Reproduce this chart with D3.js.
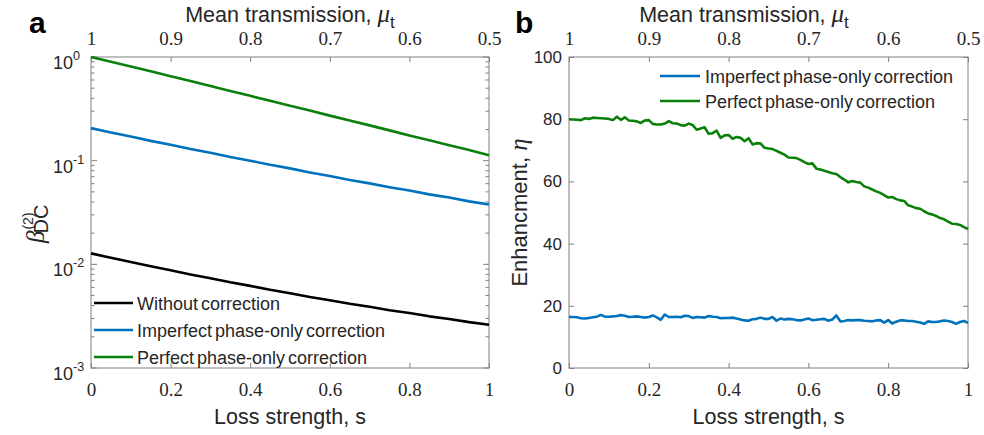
<!DOCTYPE html>
<html><head><meta charset="utf-8">
<script src="https://cdn.jsdelivr.net/npm/d3@7/dist/d3.min.js"></script>
<style>
html,body{margin:0;padding:0;background:#fff;}
svg{display:block;}
</style></head>
<body><svg id="c" width="984" height="435"></svg>
<script>
// ---------------- DATA ----------------
// Panel a: beta_DC^(2) vs loss strength s (step 0.05)
const sA = [0,0.05,0.1,0.15,0.2,0.25,0.3,0.35,0.4,0.45,0.5,0.55,0.6,0.65,0.7,0.75,0.8,0.85,0.9,0.95,1];
const aWithout = [0.01276,0.01155,0.01055,0.00958,0.00878,0.00799,0.00734,0.00671,0.00620,0.00568,0.00527,0.00485,0.00451,0.00417,0.00390,0.00361,0.00339,0.00315,0.00297,0.00277,0.00261];
const aImperfect = [0.2061,0.1870,0.1712,0.1552,0.1426,0.1296,0.1193,0.1085,0.1000,0.0912,0.0843,0.0770,0.0712,0.0652,0.0604,0.0555,0.0515,0.0473,0.0441,0.0405,0.0378];
const aPerfect = [1.0,0.899,0.809,0.727,0.653,0.586,0.525,0.471,0.422,0.378,0.339,0.304,0.272,0.244,0.219,0.196,0.175,0.157,0.141,0.127,0.113];

// Panel b: enhancement eta vs loss strength s (step 0.01)
const sB = d3.range(0,101).map(i => i/100);
const bImperfect = [16.4,16.4,16.3,16.0,15.9,16.1,16.3,16.5,17.1,16.5,16.5,16.6,16.7,17.0,16.8,16.4,16.5,16.6,16.4,16.2,
16.4,16.9,16.3,15.5,17.2,16.4,16.4,16.5,16.3,16.8,16.7,16.1,16.4,16.3,16.2,16.7,16.5,16.4,16.0,16.1,
16.1,16.2,15.9,15.6,15.3,15.2,15.7,15.8,16.2,15.8,15.8,16.4,15.2,15.9,15.6,15.8,15.7,15.4,15.3,15.6,
15.9,15.4,15.5,15.7,15.8,15.2,15.6,16.9,15.0,15.1,15.4,15.3,15.4,15.4,15.2,15.1,15.0,15.3,15.4,14.6,
15.4,14.3,14.9,15.3,15.3,15.1,15.1,14.9,14.6,14.2,15.0,14.8,14.8,15.0,15.3,15.1,14.8,14.2,14.8,15.1,14.5];
const bPerfect = [80.0,79.9,79.8,79.7,80.3,80.1,80.5,80.4,80.3,80.2,80.1,79.7,80.8,79.8,80.6,79.6,79.5,79.3,78.8,79.6,
79.7,78.5,78.3,78.3,78.6,79.4,78.7,78.6,78.1,77.9,78.6,78.1,76.6,77.0,77.4,75.3,75.5,76.3,74.0,74.8,
74.9,73.7,74.3,74.0,72.9,73.9,71.9,72.3,72.2,70.8,70.6,70.4,69.8,69.2,68.6,67.7,67.6,67.5,66.9,66.2,
65.6,65.8,64.1,63.8,63.4,63.0,62.6,62.4,61.4,60.6,59.7,60.1,59.8,59.6,58.4,58.0,57.4,56.8,56.3,55.6,
54.8,55.0,54.3,53.9,53.7,52.3,51.9,51.4,51.2,50.4,49.7,49.4,48.9,48.2,47.8,47.1,46.4,46.3,46.0,45.3,44.7];

// tick labels
const sTicks = [0,0.2,0.4,0.6,0.8,1];
const muTicks = [1,0.9,0.8,0.7,0.6,0.5];
const logPowers = [0,-1,-2,-3];
const etaTicks = [0,20,40,60,80,100];

const legendA = ["Without correction","Imperfect phase-only correction","Perfect phase-only correction"];
const legendB = ["Imperfect phase-only correction","Perfect phase-only correction"];

// ---------------- STYLE ----------------
const C_BLACK = "#000000", C_BLUE = "#0072BD", C_GREEN = "#0a800a";
const AX = "#808080", TXT = "#262626";
const SANS = "'Liberation Sans', Arial, sans-serif";
const SERIF = "'Liberation Serif', 'Times New Roman', serif";

const svg = d3.select("#c");

function panelFrame(g, x, y, L, R, T, B) {
  g.append("rect").attr("x",L).attr("y",T).attr("width",R-L).attr("height",B-T)
    .attr("fill","none").attr("stroke",AX).attr("stroke-width",1);
  const bot = d3.axisBottom(x).tickValues(sTicks).tickSize(-5).tickPadding(15)
    .tickFormat(d => d3.format("~g")(d));
  const gb = g.append("g").attr("transform",`translate(0,${B})`).call(bot);
  gb.select(".domain").remove();
  gb.selectAll(".tick line").attr("stroke",AX);
  gb.selectAll(".tick text").attr("font-family",SERIF).attr("font-size",19).attr("fill",TXT).attr("dy","0.71em");
  const mu = d3.scaleLinear().domain([1,0.5]).range([L,R]);
  const top = d3.axisTop(mu).tickValues(muTicks).tickSize(-5).tickPadding(12)
    .tickFormat(d => d3.format("~g")(d));
  const gt = g.append("g").attr("transform",`translate(0,${T})`).call(top);
  gt.select(".domain").remove();
  gt.selectAll(".tick line").attr("stroke",AX);
  gt.selectAll(".tick text").attr("font-family",SERIF).attr("font-size",19).attr("fill",TXT);
}

function titles(g, cxTop, cxBot) {
  const t = g.append("text").attr("x",cxTop).attr("y",22).attr("text-anchor","middle")
    .attr("font-family",SANS).attr("font-size",21.5).attr("fill",TXT);
  t.append("tspan").text("Mean transmission, ");
  t.append("tspan").attr("font-family",SERIF).attr("font-style","italic").attr("font-size",25).text("μ");
  t.append("tspan").attr("font-size",17).attr("dy",6).text("t");
  g.append("text").attr("x",cxBot).attr("y",424).attr("text-anchor","middle")
    .attr("font-family",SANS).attr("font-size",21.5).attr("fill",TXT).text("Loss strength, s");
}

// ---------------- PANEL A ----------------
{
  const L=91, R=489, T=57, B=368;
  const g = svg.append("g");
  const x = d3.scaleLinear().domain([0,1]).range([L,R]);
  const y = d3.scaleLog().domain([1e-3,1]).range([B,T]);
  panelFrame(g, x, y, L, R, T, B);
  logPowers.forEach(p => {
    const v = Math.pow(10,p), yy = y(v);
    [[L,6],[R,-6]].forEach(([xx,len]) => g.append("line").attr("x1",xx).attr("x2",xx+len)
      .attr("y1",yy).attr("y2",yy).attr("stroke",AX));
    if (p > -3) {
      for (let k=2;k<=9;k++) {
        const ym = y(k*Math.pow(10,p-1));
        [[L,3.5],[R,-3.5]].forEach(([xx,len]) => g.append("line").attr("x1",xx).attr("x2",xx+len)
          .attr("y1",ym).attr("y2",ym).attr("stroke",AX));
      }
    }
    const t = g.append("text").attr("x",53).attr("y",yy+12).attr("font-family",SANS)
      .attr("font-size",18).attr("fill",TXT);
    t.append("tspan").text("10");
    t.append("tspan").attr("font-size",12.5).attr("dy",-9).text(String(p));
  });
  const line = d3.line().x((d,i)=>x(sA[i])).y(d=>y(d));
  [[aWithout,C_BLACK],[aImperfect,C_BLUE],[aPerfect,C_GREEN]].forEach(([arr,c]) =>
    g.append("path").datum(arr).attr("d",line).attr("fill","none").attr("stroke",c)
      .attr("stroke-width",2.6).attr("stroke-linejoin","round"));
  const cols = [C_BLACK,C_BLUE,C_GREEN];
  legendA.forEach((lab,i) => {
    const yy = 303 + i*27;
    g.append("line").attr("x1",94).attr("x2",133).attr("y1",yy).attr("y2",yy)
      .attr("stroke",cols[i]).attr("stroke-width",2.6);
    g.append("text").attr("x",137).attr("y",yy+6.5).attr("font-family",SANS).attr("font-size",18)
      .attr("fill",TXT).attr("word-spacing",-2).text(lab);
  });
  const yl = g.append("text").attr("transform","translate(44,243) rotate(-90)")
    .attr("font-family",SANS).attr("fill",TXT);
  yl.append("tspan").attr("font-family",SERIF).attr("font-style","italic").attr("font-size",25).text("β");
  yl.append("tspan").attr("font-size",14).attr("dy",-11).attr("dx",1).text("(2)");
  yl.append("tspan").attr("font-size",20).attr("dy",15).attr("dx",-21).text("DC");
  titles(g, (L+R)/2, (L+R)/2);
  g.append("text").attr("x",29).attr("y",33).attr("font-family",SANS).attr("font-weight","bold")
    .attr("font-size",30).attr("fill","#000").text("a");
}

// ---------------- PANEL B ----------------
{
  const L=569, R=968, T=57, B=368;
  const g = svg.append("g");
  const x = d3.scaleLinear().domain([0,1]).range([L,R]);
  const y = d3.scaleLinear().domain([0,100]).range([B,T]);
  panelFrame(g, x, y, L, R, T, B);
  const ax = d3.axisLeft(y).tickValues(etaTicks).tickSize(-5).tickPadding(7);
  const ga = g.append("g").attr("transform",`translate(${L},0)`).call(ax);
  ga.select(".domain").remove();
  ga.selectAll(".tick line").attr("stroke",AX);
  ga.selectAll(".tick text").attr("font-family",SANS).attr("font-size",17).attr("fill",TXT);
  const axr = d3.axisRight(y).tickValues(etaTicks).tickSize(-5).tickFormat("");
  const gr = g.append("g").attr("transform",`translate(${R},0)`).call(axr);
  gr.select(".domain").remove();
  gr.selectAll(".tick line").attr("stroke",AX);
  const line = d3.line().x((d,i)=>x(sB[i])).y(d=>y(d));
  [[bImperfect,C_BLUE],[bPerfect,C_GREEN]].forEach(([arr,c]) =>
    g.append("path").datum(arr).attr("d",line).attr("fill","none").attr("stroke",c)
      .attr("stroke-width",2.6).attr("stroke-linejoin","round"));
  const cols = [C_BLUE,C_GREEN];
  legendB.forEach((lab,i) => {
    const yy = 76 + i*25;
    g.append("line").attr("x1",660).attr("x2",700).attr("y1",yy).attr("y2",yy)
      .attr("stroke",cols[i]).attr("stroke-width",2.6);
    g.append("text").attr("x",705).attr("y",yy+6.5).attr("font-family",SANS).attr("font-size",18)
      .attr("fill",TXT).attr("word-spacing",-2).text(lab);
  });
  const yl = g.append("text").attr("transform",`translate(527,${(T+B)/2}) rotate(-90)`)
    .attr("text-anchor","middle").attr("font-family",SANS).attr("font-size",22).attr("fill",TXT);
  yl.append("tspan").text("Enhancment, ");
  yl.append("tspan").attr("font-family",SERIF).attr("font-style","italic").attr("font-size",25).text("η");
  titles(g, 744, (L+R)/2);
  g.append("text").attr("x",515).attr("y",33).attr("font-family",SANS).attr("font-weight","bold")
    .attr("font-size",30).attr("fill","#000").text("b");
}
</script></body></html>
